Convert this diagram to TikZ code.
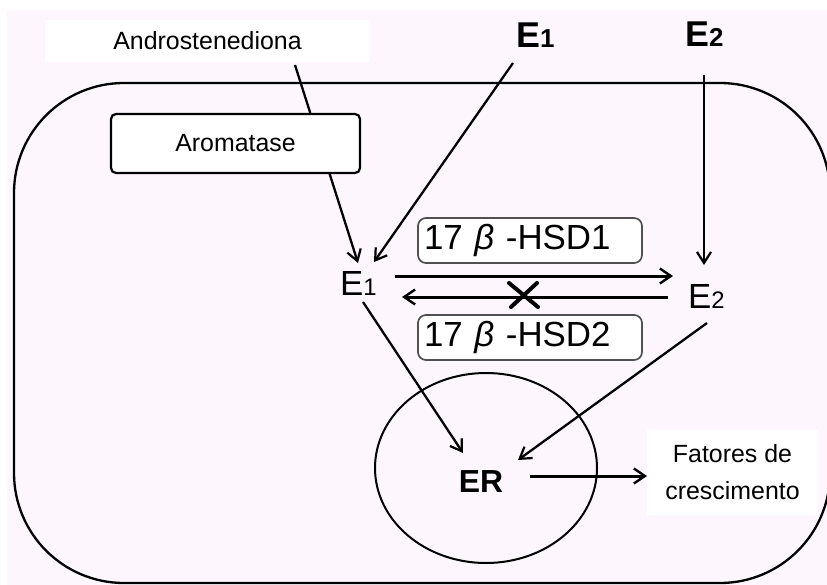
\documentclass[tikz,border=0pt]{standalone}
\usepackage{fontspec}
\setmainfont{Liberation Sans}
\usetikzlibrary{arrows.meta,shapes.geometric}
\definecolor{cellbg}{RGB}{253,247,253}
\definecolor{hsdgray}{RGB}{80,80,80}
\begin{document}
\begin{tikzpicture}[x=1bp,y=-1bp,
  lbl/.style={font=\fontsize{25}{37}\selectfont, inner sep=0pt},
  whitebox/.style={fill=white, draw=none},
  arr/.style={line width=2.3bp, -{Straight Barb[length=11bp,width=14bp,line width=2.2bp]}},
  arrthick/.style={line width=3bp, -{Straight Barb[length=11bp,width=15bp,line width=2.4bp]}},
  hsdbox/.style={draw=hsdgray, line width=1.7bp, fill=white, rounded corners=8bp,
    minimum width=224bp, minimum height=45bp, inner xsep=6bp, inner ysep=0pt,
    text width=212bp, align=left, font=\fontsize{35}{35}\selectfont},
  hormbold/.style={inner sep=0pt, font=\fontsize{36}{36}\selectfont\bfseries},
  horm/.style={inner sep=0pt, font=\fontsize{35}{35}\selectfont},
  crossline/.style={line width=4bp, line cap=round}
]
\useasboundingbox (0,0) rectangle (827,585);
\fill[cellbg] (7,10) rectangle (827,585);

% text boxes outside / at edge
\node[whitebox, lbl, minimum width=325bp, minimum height=42bp] (andro) at (207.5,41) {Androstenediona};
\node[whitebox, lbl, minimum width=171bp, minimum height=85bp, align=center] (fat) at (732.5,472.5) {Fatores de\\crescimento};

% cell
\draw[line width=2.3bp, rounded corners=110bp] (14,83) rectangle (830,583);

% nucleus
\node[ellipse, draw, line width=2bp, minimum width=222bp, minimum height=190bp] (nuc) at (486,468) {};

% hormone labels
\node[hormbold, anchor=base west] (e1top) at (516,48) {E{\fontsize{26}{26}\selectfont 1}};
\node[hormbold, anchor=base west] (e2top) at (685,47) {E{\fontsize{26}{26}\selectfont 2}};
\node[horm, anchor=base west] (e1) at (340,295) {E{\fontsize{24}{24}\selectfont 1}};
\node[horm, anchor=base west] (e2) at (688,308) {E{\fontsize{24}{24}\selectfont 2}};
\node[inner sep=0pt, anchor=base, font=\fontsize{32}{32}\selectfont\bfseries] (er) at (481,492) {ER};

% enzyme boxes
\node[hsdbox] (hsd1) at (530,240.5) {17 \textit{β} -HSD1};
\node[hsdbox] (hsd2) at (530,337.5) {17 \textit{β} -HSD2};

% connector end points
\coordinate (andS) at (295,65);
\coordinate (andT) at (358,263);
\coordinate (e1tS) at (513,63);
\coordinate (e1tT) at (374,262);
\coordinate (e2tS) at (704,75);
\coordinate (e2tT) at (704,265);
\coordinate (fwdS) at (395,276);
\coordinate (fwdT) at (673,276);
\coordinate (bwdS) at (668,297);
\coordinate (bwdT) at (402,297);
\coordinate (e1erS) at (363,302);
\coordinate (e1erT) at (463,453);
\coordinate (e2erS) at (707,323);
\coordinate (e2erT) at (518,460);
\coordinate (erS) at (530,476);
\coordinate (erT) at (647,476);
\coordinate (X) at (523,295);

% arrows
\draw[arr] (andS) -- (andT);
\draw[arr] (e1tS) -- (e1tT);
\draw[arr] (e2tS) -- (e2tT);
\draw[arrthick] (fwdS) -- (fwdT);
\draw[arrthick] (bwdS) -- (bwdT);
\draw[arr] (e1erS) -- (e1erT);
\draw[arr] (e2erS) -- (e2erT);
\draw[arrthick] (erS) -- (erT);

% blocked reaction
\draw[crossline] ([shift={(-14,-12)}]X) -- ([shift={(15,12)}]X);
\draw[crossline] ([shift={(-12,12)}]X) -- ([shift={(14,-12)}]X);

% aromatase box drawn over the androstenedione arrow
\node[draw, line width=2.2bp, fill=white, rounded corners=5bp, minimum width=249bp, minimum height=59bp, lbl] (arom) at (235.5,143.5) {Aromatase};
\end{tikzpicture}
\end{document}
